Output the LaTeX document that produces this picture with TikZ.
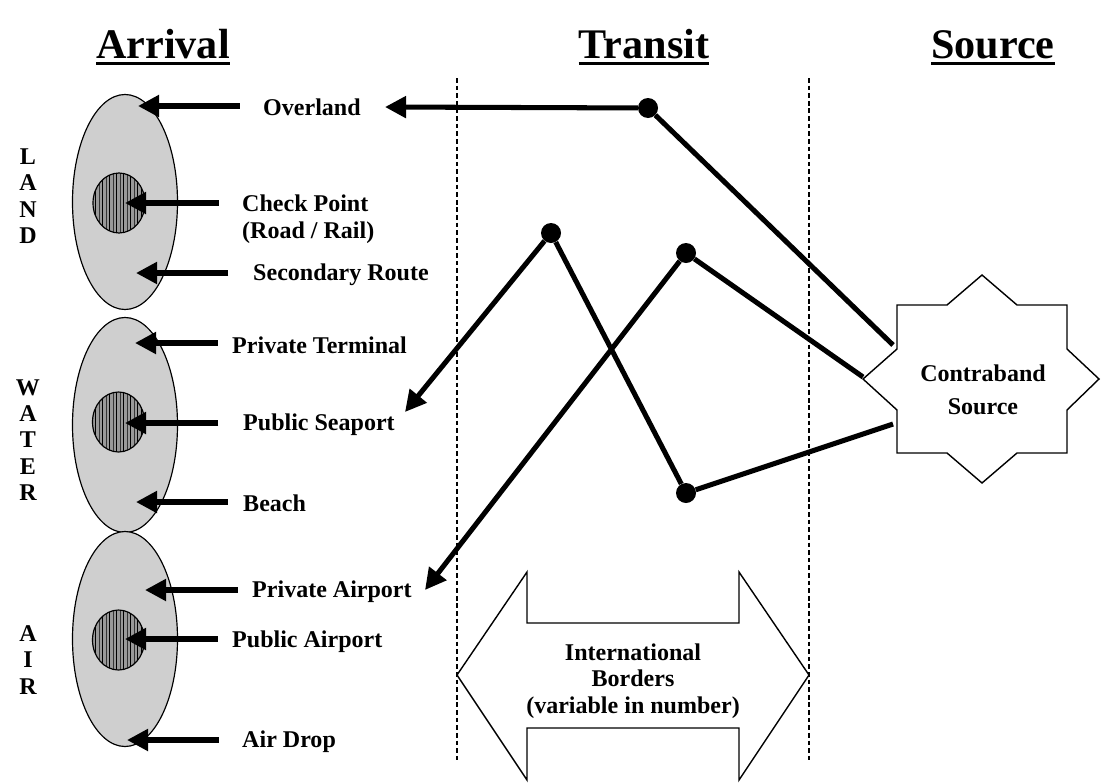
\documentclass[tikz,border=0pt]{standalone}
\usepackage{fontspec}
\setmainfont{Liberation Serif}
\usetikzlibrary{arrows.meta,shapes.geometric,patterns}

\begin{document}
\begin{tikzpicture}
  [
  x=0.03cm, y=-0.03cm,
  zone/.style={ellipse,draw,line width=1pt,fill=black!19,minimum width=3.15cm,minimum height=6.45cm},
  port/.style={ellipse,draw,line width=1pt,preaction={fill=black!40},pattern=vertical lines,minimum width=1.56cm,minimum height=1.8cm},
  lbl/.style={font=\bfseries\fontsize{20.5}{23}\selectfont,anchor=west,inner sep=0pt,align=left},
  head/.style={font=\bfseries\fontsize{36}{40}\selectfont,anchor=base,inner sep=0pt},
  side/.style={font=\bfseries\fontsize{20.5}{22.5}\selectfont,align=center,inner sep=0pt},
  feed/.style={line width=4.3pt,-{Triangle[length=18pt,width=18pt]}},
  route/.style={line width=4.3pt},
  hub/.style={circle,fill,inner sep=0pt,minimum size=0.6cm},
  border/.style={dash pattern=on 4pt off 2.5pt,line width=0.9pt}
  ]
  \useasboundingbox (0,0) rectangle (1101,783);

  % column headings
  \node[head] (arr) at (163,58) {Arrival};
  \node[head] (trn) at (644,58) {Transit};
  \node[head] (srch) at (993,58) {Source};
  \foreach \h in {arr,trn,srch}
    \draw[line width=2.5pt] ([yshift=-5pt]\h.base west) -- ([yshift=-5pt]\h.base east);

  % national borders
  \draw[border] (457,78) -- (457,762);
  \draw[border] (809,78) -- (809,762);

  % arrival zones
  \node[zone] (land) at (125,202) {};
  \node[zone] (water) at (125,425) {};
  \node[zone] (air) at (125,639) {};
  \node[port] (landp) at (119,203) {};
  \node[port] (waterp) at (118.5,422) {};
  \node[port] (airp) at (118.5,640) {};

  \node[side] (landtag) at (28,196) {L\\A\\N\\D};
  \node[side] (watertag) at (28,440) {W\\A\\T\\E\\R};
  \node[side] (airtag) at (28,660) {A\\I\\R};

  % entry labels
  \node[lbl] (over) at (263,107) {Overland};
  \node[lbl] (chk) at (242,219) {Check Point\\(Road / Rail)};
  \node[lbl] (sec) at (253,275) {Secondary Route};
  \node[lbl] (pterm) at (232,345) {Private Terminal};
  \node[lbl] (sea) at (243,425) {Public Seaport};
  \node[lbl] (beach) at (243,503) {Beach};
  \node[lbl] (pair) at (252,592) {Private Airport};
  \node[lbl] (pubair) at (232,642) {Public Airport};
  \node[lbl] (drop) at (242,742) {Air Drop};

  \coordinate (overIn) at (138,106);
  \coordinate (chkIn) at (125,203);
  \coordinate (secIn) at (136,273);
  \coordinate (ptermIn) at (135,343);
  \coordinate (seaIn) at (125,423);
  \coordinate (beachIn) at (136,502);
  \coordinate (pairIn) at (145,590);
  \coordinate (pubairIn) at (125,639);
  \coordinate (dropIn) at (127,740);

  \draw[feed,shorten <=20pt] (over.west |- overIn) -- (overIn);
  \draw[feed,shorten <=20pt] (chk.west |- chkIn) -- (chkIn);
  \draw[feed,shorten <=21pt] (sec.west |- secIn) -- (secIn);
  \draw[feed,shorten <=12pt] (pterm.west |- ptermIn) -- (ptermIn);
  \draw[feed,shorten <=21pt] (sea.west |- seaIn) -- (seaIn);
  \draw[feed,shorten <=13pt] (beach.west |- beachIn) -- (beachIn);
  \draw[feed,shorten <=12pt] (pair.west |- pairIn) -- (pairIn);
  \draw[feed,shorten <=12pt] (pubair.west |- pubairIn) -- (pubairIn);
  \draw[feed,shorten <=20pt] (drop.west |- dropIn) -- (dropIn);

  % contraband source
  \draw[line width=1.2pt,fill=white] (982,275) -- (1017,305) -- (1067,305) -- (1067,349)
    -- (1099,379) -- (1067,410) -- (1067,453) -- (1017,453) -- (982,483) -- (947,453)
    -- (897,453) -- (897,410) -- (863,379) -- (897,349) -- (897,305) -- (947,305) -- cycle;
  \node[lbl,anchor=center,align=center,font=\bfseries\fontsize{20.5}{28}\selectfont] (src) at (983,390) {Contraband\\Source};
  \coordinate (s1) at (893,345);
  \coordinate (s2) at (863,377);
  \coordinate (s3) at (893,424);

  % transit routes
  \node[hub] (h1) at (648,108) {};
  \node[hub] (h2) at (551,233) {};
  \node[hub] (h3) at (686,253) {};
  \node[hub] (h4) at (686,493) {};
  \coordinate (ovOut) at (385,107);
  \coordinate (seaOut) at (405,412);
  \coordinate (airOut) at (425,590);

  \draw[feed] (h1) -- (ovOut);
  \draw[route] (h1) -- (s1);
  \draw[feed] (h2) -- (seaOut);
  \draw[route] (h2) -- (h4);
  \draw[feed] (h3) -- (airOut);
  \draw[route] (h3) -- (s2);
  \draw[route] (h4) -- (s3);

  % border crossing arrow
  \draw[line width=1.2pt,fill=white] (457,675) -- (527,572) -- (527,623) -- (739,623) -- (739,572)
    -- (809,675) -- (739,780) -- (739,728) -- (527,728) -- (527,780) -- cycle;
  \node[lbl,anchor=center,align=center,font=\bfseries\fontsize{20.5}{22.5}\selectfont] (intl) at (633,681) {International\\Borders\\(variable in number)};
\end{tikzpicture}
\end{document}
